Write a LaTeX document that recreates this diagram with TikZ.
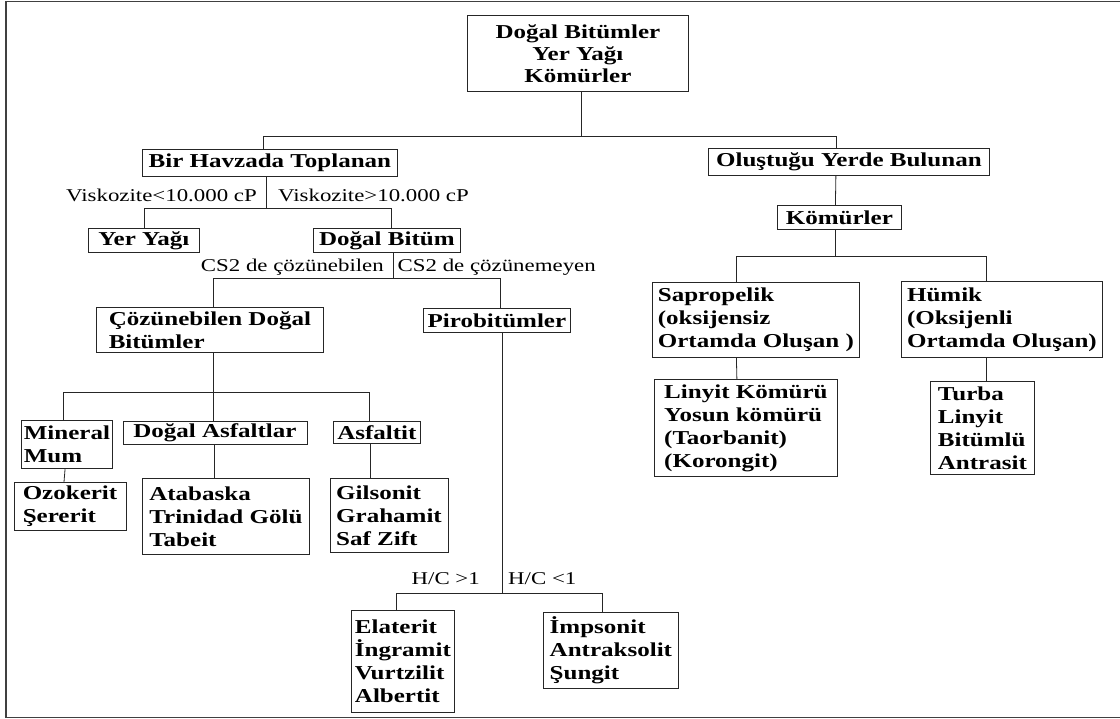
\documentclass[tikz,border=0pt]{standalone}
\usepackage{fontspec}
\setmainfont{Liberation Serif}[FakeStretch=1.27]

\begin{document}
\begin{tikzpicture}[
    x=1pt, y=-1pt,
    box/.style={draw=black!85, line width=0.8pt, anchor=north west, inner xsep=2pt, inner ysep=1pt,
                font=\bfseries\fontsize{19.7}{23}\selectfont}, % 方框
    lbl/.style={inner sep=0pt, font=\fontsize{18}{20}\selectfont}, % 分支条件文字
    conn/.style={draw=black!85, line width=0.8pt}, % 连线
    frame/.style={black!75, line width=1.6pt}      % 外框
]
    \useasboundingbox (0,0) rectangle (1120,719);

    % 0. 外框(右边没有线)
    \draw[frame] (1120,1.7) -- (6,1.7) -- (6,717.5) -- (1120,717.5);

    % 1. 顶层与右侧分支
    \node[box, align=center, minimum width=221, minimum height=76,
          font=\bfseries\fontsize{19.7}{22}\selectfont] (root) at (467,15) {Doğal Bitümler\\Yer Yağı\\Kömürler};
    \node[box, align=center, minimum width=255, minimum height=27] (havza) at (142,149) {Bir Havzada Toplanan};
    \node[box, align=center, minimum width=281, minimum height=27] (yerinde) at (708,148) {Oluştuğu Yerde Bulunan};
    \node[box, align=center, minimum width=124, minimum height=24] (komur) at (777,205) {Kömürler};
    \node[box, align=left, minimum width=207, minimum height=75] (sapro) at (652,282) {Sapropelik\\(oksijensiz\\Ortamda Oluşan )};
    \node[box, align=left, minimum width=201, minimum height=76] (humik) at (901,281) {Hümik\\(Oksijenli\\Ortamda Oluşan)};
    \node[box, align=left, minimum width=183, minimum height=97] (linyit) at (654,379) {Linyit Kömürü\\Yosun kömürü\\(Taorbanit)\\(Korongit)};
    \node[box, align=left, minimum width=104, minimum height=93] (turba) at (930,381) {Turba\\Linyit\\Bitümlü\\Antrasit};

    % 2. 左侧分支
    \node[box, align=center, minimum width=111, minimum height=24] (yeryagi) at (88,228) {Yer Yağı};
    \node[box, align=center, minimum width=147, minimum height=24] (bitum) at (313,228) {Doğal Bitüm};
    \node[box, align=left, minimum width=227, minimum height=45] (cozen) at (96,307) {Çözünebilen Doğal\\Bitümler};
    \node[box, align=center, minimum width=147, minimum height=24] (piro) at (423,308) {Pirobitümler};
    \node[box, align=left, minimum width=88, minimum height=48] (mineral) at (21.4,420) {Mineral\\Mum};
    \node[box, align=center, minimum width=184, minimum height=23] (asfalt) at (122.5,421) {Doğal Asfaltlar};
    \node[box, align=center, minimum width=87, minimum height=22] (asfaltit) at (333,421) {Asfaltit};
    \node[box, align=left, minimum width=112, minimum height=48] (ozokerit) at (13.6,482) {Ozokerit\\Şererit};
    \node[box, align=left, minimum width=167, minimum height=76] (atabaska) at (142,478) {Atabaska\\Trinidad Gölü\\Tabeit};
    \node[box, align=left, minimum width=118, minimum height=74] (gilsonit) at (329.6,478) {Gilsonit\\Grahamit\\Saf Zift};
    \node[box, align=left, minimum width=103, minimum height=102] (elaterit) at (351,610) {Elaterit\\İngramit\\Vurtzilit\\Albertit};
    \node[box, align=left, minimum width=135, minimum height=76] (impsonit) at (543,612) {İmpsonit\\Antraksolit\\Şungit};

    % 3. 树形连线
    \draw[conn] ([xshift=3.5]root.south) -- ++(0,45) coordinate (j0);
    \draw[conn] ([xshift=-6.5]havza.north) |- (j0) -| ([xshift=-13]yerinde.north);
    \draw[conn] ([xshift=-13]yerinde.south) -- ([xshift=-4]komur.north);
    \draw[conn] ([xshift=-4]komur.south) -- ++(0,27) coordinate (j4);
    \draw[conn] ([xshift=-19.5]sapro.north) |- (j4) -| ([xshift=-15.5]humik.north);
    \draw[conn] ([xshift=-19.5]sapro.south) -- ([xshift=-9]linyit.north);
    \draw[conn] ([xshift=-15.5]humik.south) -- ([xshift=4]turba.north);

    \draw[conn] ([xshift=-3.5]havza.south) -- ++(0,32) coordinate (j1);
    \draw[conn] (yeryagi.north) |- (j1) -| ([xshift=4.5]bitum.north);
    \draw[conn] ([xshift=6.5]bitum.south) -- ++(0,26) coordinate (j2);
    \draw[conn] ([xshift=3.5]cozen.north) |- (j2) -| ([xshift=3.5]piro.north);
    \draw[conn] ([xshift=3]cozen.south) -- ++(0,40) coordinate (j3);
    \draw[conn] ([xshift=-3.6]mineral.north) |- (j3) -| ([xshift=-7.5]asfaltit.north);
    \draw[conn] (j3) -- ([xshift=-2]asfalt.north);
    \foreach \p/\ps/\c/\cs in {mineral/-1.8/ozokerit/-6, asfalt/-0.9/atabaska/-11.9, asfaltit/-6.9/gilsonit/-19} {
        \draw[conn] ([xshift=\ps]\p.south) -- ([xshift=\cs]\c.north);
    }
    \draw[conn] ([xshift=5.3]piro.south) -- ++(0,261) coordinate (j5);
    \draw[conn] ([xshift=-6.8]elaterit.north) |- (j5) -| ([xshift=-8.8]impsonit.north);

    % 4. 分支条件
    \node[lbl, anchor=base east] (visk1) at (257,201.5) {Viskozite<10.000 cP};
    \node[lbl, anchor=base west] (visk2) at (278,201.5) {Viskozite>10.000 cP};
    \node[lbl, anchor=base east] (cs1) at (384,271.5) {CS2 de çözünebilen};
    \node[lbl, anchor=base west] (cs2) at (397.5,271.5) {CS2 de çözünemeyen};
    \node[lbl, anchor=base east] (hc1) at (480,584) {H/C >1};
    \node[lbl, anchor=base west] (hc2) at (508,584) {H/C <1};
\end{tikzpicture}
\end{document}
